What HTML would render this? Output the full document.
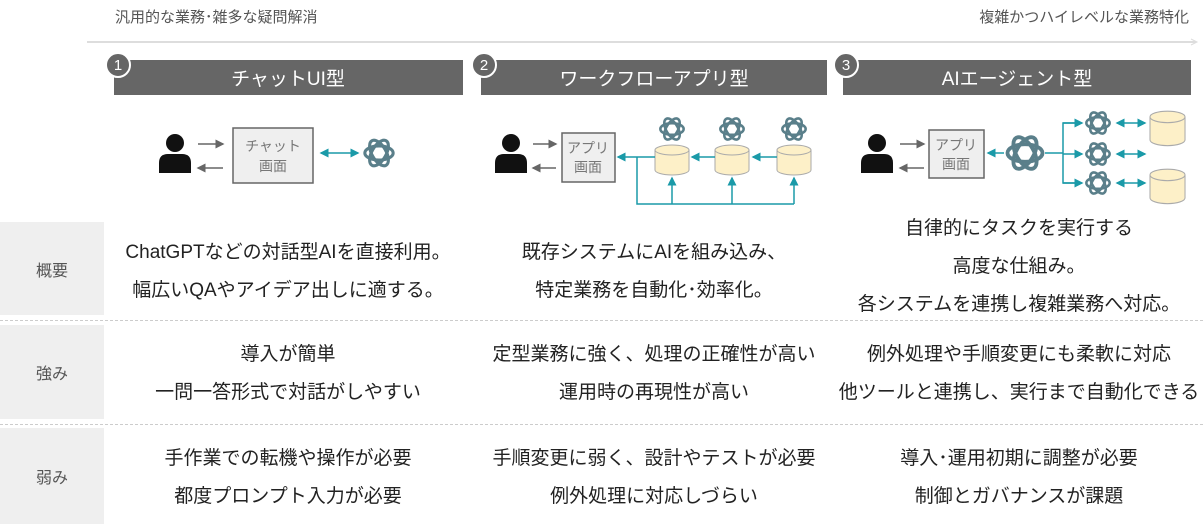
<!DOCTYPE html>
<html><head><meta charset="utf-8"><style>
body{margin:0;width:1203px;height:524px;background:#fff;position:relative;overflow:hidden;font-family:"Liberation Sans","Noto Sans CJK JP",sans-serif;}
.a{position:absolute}
.t{position:absolute;text-align:center;color:#222;font-size:19px;line-height:38px}
.lab{position:absolute;left:0;width:104px;background:#efefef;color:#555;font-size:16px;display:flex;align-items:center;justify-content:center}
.dash{position:absolute;left:0;width:1203px;border-top:1.5px dashed #ccc}
</style></head><body>
<div class="a" style="left:115px;top:6px;font-size:15px;color:#555">汎用的な業務･雑多な疑問解消</div>
<div class="a" style="right:14px;top:6px;font-size:15px;color:#555">複雑かつハイレベルな業務特化</div>
<svg class="a" style="left:0;top:0" width="1203" height="524">
<defs>
<marker id="g" markerWidth="6" markerHeight="6" refX="5" refY="3" orient="auto"><path d="M0,0L6,3L0,6z" fill="#666"/></marker>
<marker id="b" markerWidth="6" markerHeight="6" refX="5" refY="3" orient="auto"><path d="M0,0L6,3L0,6z" fill="#1a9aa8"/></marker>
<marker id="bs" markerWidth="6" markerHeight="6" refX="1" refY="3" orient="auto"><path d="M6,0L0,3L6,6z" fill="#1a9aa8"/></marker>
<symbol id="gpt" viewBox="-12 -12 24 24"><g fill="none" stroke="#5a7f8a" stroke-width="2.2">
<ellipse rx="10" ry="5"/><ellipse rx="10" ry="5" transform="rotate(60)"/><ellipse rx="10" ry="5" transform="rotate(120)"/></g></symbol>
<symbol id="per" viewBox="0 0 32 40"><circle cx="16" cy="10" r="9" fill="#111"/><path d="M0,40V30Q0,21 9,21H23Q32,21 32,30V40z" fill="#111"/></symbol>
<g id="db"><path d="M0,6V26A17,5 0 0 0 34,26V6" fill="#fdf0c8" stroke="#aaa"/><ellipse cx="17" cy="6" rx="17" ry="5" fill="#fdf0c8" stroke="#aaa"/></g>
</defs>
<line x1="87" y1="42" x2="1196" y2="42" stroke="#ddd" stroke-width="2"/>
<path d="M1191,39L1197,42L1191,45" fill="none" stroke="#ddd"/>
<rect x="114" y="60" width="349" height="35" fill="#666"/>
<rect x="481" y="60" width="346" height="35" fill="#666"/>
<rect x="843" y="60" width="348" height="35" fill="#666"/>
<g font-size="15" fill="#fff" text-anchor="middle" stroke="none">
<circle cx="118" cy="65" r="12" fill="#666" stroke="#fff" stroke-width="2"/><text x="118" y="70" fill="#fff">1</text>
<circle cx="484" cy="65" r="12" fill="#666" stroke="#fff" stroke-width="2"/><text x="484" y="70" fill="#fff">2</text>
<circle cx="846" cy="65" r="12" fill="#666" stroke="#fff" stroke-width="2"/><text x="846" y="70" fill="#fff">3</text>
</g>
<g font-size="19" fill="#fff" text-anchor="middle">
<text x="288" y="85">チャットUI型</text><text x="654" y="85">ワークフローアプリ型</text><text x="1017" y="85">AIエージェント型</text>
</g>
<use href="#per" x="159" y="133" width="32" height="40"/>
<line x1="198" y1="144" x2="223" y2="144" stroke="#666" stroke-width="1.5" marker-end="url(#g)"/>
<line x1="223" y1="168" x2="198" y2="168" stroke="#666" stroke-width="1.5" marker-end="url(#g)"/>
<rect x="233" y="128" width="80" height="55" fill="#efefef" stroke="#666" stroke-width="1.5"/>
<g font-size="14" fill="#777" text-anchor="middle"><text x="273" y="151">チャット</text><text x="273" y="171">画面</text></g>
<line x1="321" y1="153" x2="358" y2="153" stroke="#1a9aa8" stroke-width="1.5" marker-end="url(#b)" marker-start="url(#bs)"/>
<use href="#gpt" x="362" y="136" width="34" height="34"/>
<use href="#per" x="495" y="133" width="32" height="40"/>
<line x1="533" y1="144" x2="556" y2="144" stroke="#666" stroke-width="1.5" marker-end="url(#g)"/>
<line x1="556" y1="168" x2="533" y2="168" stroke="#666" stroke-width="1.5" marker-end="url(#g)"/>
<rect x="562" y="133" width="53" height="49" fill="#efefef" stroke="#666" stroke-width="1.5"/>
<g font-size="14" fill="#777" text-anchor="middle"><text x="588" y="153">アプリ</text><text x="588" y="172">画面</text></g>
<use href="#db" x="655" y="144"/><use href="#db" x="715" y="144"/><use href="#db" x="777" y="144"/>
<use href="#gpt" x="658" y="115" width="28" height="28"/><use href="#gpt" x="718" y="115" width="28" height="28"/><use href="#gpt" x="780" y="115" width="28" height="28"/>
<g stroke="#1a9aa8" stroke-width="1.5" fill="none">
<line x1="655" y1="157" x2="618" y2="157" marker-end="url(#b)"/>
<line x1="715" y1="157" x2="692" y2="157" marker-end="url(#b)"/>
<line x1="777" y1="157" x2="753" y2="157" marker-end="url(#b)"/>
<polyline points="637,157 637,204 794,204"/>
<line x1="672" y1="204" x2="672" y2="178" marker-end="url(#b)"/>
<line x1="732" y1="204" x2="732" y2="178" marker-end="url(#b)"/>
<line x1="794" y1="204" x2="794" y2="178" marker-end="url(#b)"/>
</g>
<use href="#per" x="861" y="133" width="32" height="40"/>
<line x1="900" y1="144" x2="924" y2="144" stroke="#666" stroke-width="1.5" marker-end="url(#g)"/>
<line x1="924" y1="168" x2="900" y2="168" stroke="#666" stroke-width="1.5" marker-end="url(#g)"/>
<rect x="929" y="130" width="55" height="48" fill="#efefef" stroke="#666" stroke-width="1.5"/>
<g font-size="14" fill="#777" text-anchor="middle"><text x="956" y="150">アプリ</text><text x="956" y="169">画面</text></g>
<use href="#gpt" x="1004" y="132" width="42" height="42"/>
<g stroke="#1a9aa8" stroke-width="1.5" fill="none">
<line x1="1004" y1="153" x2="988" y2="153" marker-end="url(#b)"/>
<line x1="1045" y1="153" x2="1063" y2="153"/>
<polyline points="1080,123 1063,123 1063,183 1080,183" />
<line x1="1063" y1="123" x2="1082" y2="123" marker-end="url(#b)"/>
<line x1="1063" y1="154" x2="1082" y2="154" marker-end="url(#b)"/>
<line x1="1063" y1="183" x2="1082" y2="183" marker-end="url(#b)"/>
<line x1="1117" y1="123" x2="1145" y2="123" marker-start="url(#bs)" marker-end="url(#b)"/>
<line x1="1117" y1="154" x2="1145" y2="154" marker-start="url(#bs)" marker-end="url(#b)"/>
<line x1="1117" y1="183" x2="1145" y2="183" marker-start="url(#bs)" marker-end="url(#b)"/>
</g>
<use href="#gpt" x="1084" y="109" width="28" height="28"/><use href="#gpt" x="1084" y="140" width="28" height="28"/><use href="#gpt" x="1084" y="169" width="28" height="28"/>
<g transform="translate(1150,110) scale(1.03,1.15)"><use href="#db"/></g>
<g transform="translate(1150,168) scale(1.03,1.15)"><use href="#db"/></g>
</svg>
<div class="lab" style="top:222px;height:93px">概要</div>
<div class="dash" style="top:320px"></div>
<div class="lab" style="top:325px;height:94px">強み</div>
<div class="dash" style="top:424px"></div>
<div class="lab" style="top:428px;height:96px">弱み</div>
<div class="t" style="left:105px;width:366px;top:234px">ChatGPTなどの対話型AIを直接利用。<br>幅広いQAやアイデア出しに適する。</div>
<div class="t" style="left:471px;width:366px;top:234px">既存システムにAIを組み込み、<br>特定業務を自動化･効率化。</div>
<div class="t" style="left:835px;width:368px;top:210px">自律的にタスクを実行する<br>高度な仕組み。<br>各システムを連携し複雑業務へ対応。</div>
<div class="t" style="left:105px;width:366px;top:336px">導入が簡単<br>一問一答形式で対話がしやすい</div>
<div class="t" style="left:471px;width:366px;top:336px">定型業務に強く、処理の正確性が高い<br>運用時の再現性が高い</div>
<div class="t" style="left:835px;width:368px;top:336px">例外処理や手順変更にも柔軟に対応<br>他ツールと連携し、実行まで自動化できる</div>
<div class="t" style="left:105px;width:366px;top:440px">手作業での転機や操作が必要<br>都度プロンプト入力が必要</div>
<div class="t" style="left:471px;width:366px;top:440px">手順変更に弱く、設計やテストが必要<br>例外処理に対応しづらい</div>
<div class="t" style="left:835px;width:368px;top:440px">導入･運用初期に調整が必要<br>制御とガバナンスが課題</div>
</body></html>
